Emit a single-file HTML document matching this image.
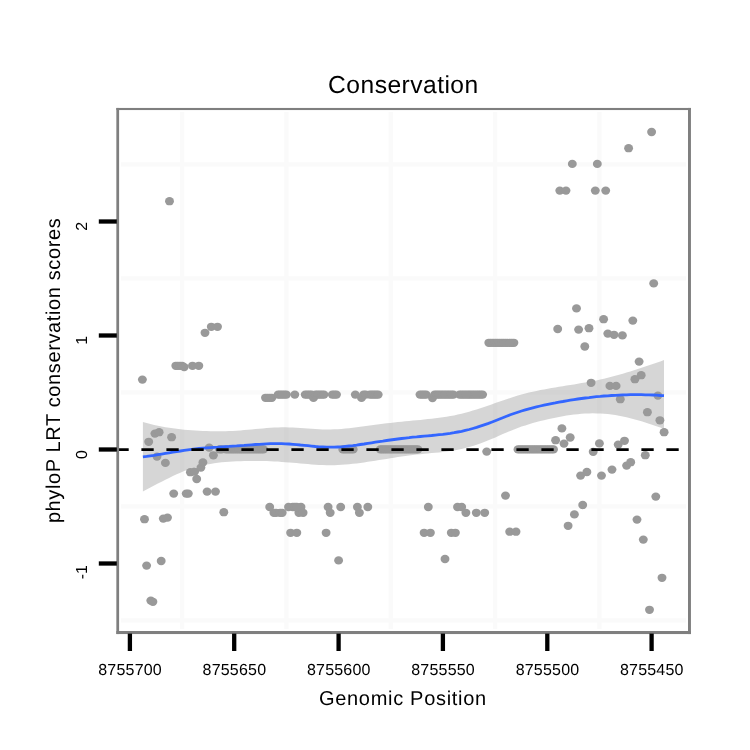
<!DOCTYPE html>
<html><head><meta charset="utf-8"><title>Conservation</title>
<style>html,body{margin:0;padding:0;background:#fff;}body{width:750px;height:750px;overflow:hidden;font-family:"Liberation Sans",sans-serif;}svg{display:block;will-change:transform;transform:translateZ(0);}text{-webkit-font-smoothing:antialiased;text-rendering:geometricPrecision;}</style></head>
<body>
<svg width="750" height="750" viewBox="0 0 750 750">
<rect x="0" y="0" width="750" height="750" fill="#ffffff"/>
<g stroke="#fafafa" stroke-width="4.3" fill="none">
<line x1="182.1" y1="112" x2="182.1" y2="629"/>
<line x1="286.4" y1="112" x2="286.4" y2="629"/>
<line x1="390.8" y1="112" x2="390.8" y2="629"/>
<line x1="495.1" y1="112" x2="495.1" y2="629"/>
<line x1="599.4" y1="112" x2="599.4" y2="629"/>
<line x1="121" y1="164.4" x2="686" y2="164.4"/>
<line x1="121" y1="278.4" x2="686" y2="278.4"/>
<line x1="121" y1="392.4" x2="686" y2="392.4"/>
<line x1="121" y1="506.4" x2="686" y2="506.4"/>
<line x1="121" y1="620.4" x2="686" y2="620.4"/>
</g>
<g fill="#999999">
<ellipse cx="142.4" cy="379.6" rx="4.45" ry="4.15"/>
<ellipse cx="144.5" cy="519.2" rx="4.45" ry="4.15"/>
<ellipse cx="146.6" cy="565.6" rx="4.45" ry="4.15"/>
<ellipse cx="148.7" cy="441.8" rx="4.45" ry="4.15"/>
<ellipse cx="150.8" cy="600.6" rx="4.45" ry="4.15"/>
<ellipse cx="152.9" cy="601.8" rx="4.45" ry="4.15"/>
<ellipse cx="154.9" cy="433.6" rx="4.45" ry="4.15"/>
<ellipse cx="157.0" cy="456.6" rx="4.45" ry="4.15"/>
<ellipse cx="159.1" cy="432.2" rx="4.45" ry="4.15"/>
<ellipse cx="161.2" cy="561.0" rx="4.45" ry="4.15"/>
<ellipse cx="163.3" cy="518.6" rx="4.45" ry="4.15"/>
<ellipse cx="165.4" cy="462.9" rx="4.45" ry="4.15"/>
<ellipse cx="167.5" cy="517.6" rx="4.45" ry="4.15"/>
<ellipse cx="169.5" cy="201.2" rx="4.45" ry="4.15"/>
<ellipse cx="171.6" cy="437.2" rx="4.45" ry="4.15"/>
<ellipse cx="173.7" cy="493.6" rx="4.45" ry="4.15"/>
<ellipse cx="175.8" cy="365.8" rx="4.45" ry="4.15"/>
<ellipse cx="177.9" cy="365.8" rx="4.45" ry="4.15"/>
<ellipse cx="180.0" cy="365.8" rx="4.45" ry="4.15"/>
<ellipse cx="182.1" cy="365.8" rx="4.45" ry="4.15"/>
<ellipse cx="184.2" cy="367.1" rx="4.45" ry="4.15"/>
<ellipse cx="186.2" cy="493.6" rx="4.45" ry="4.15"/>
<ellipse cx="188.3" cy="493.6" rx="4.45" ry="4.15"/>
<ellipse cx="190.4" cy="472.2" rx="4.45" ry="4.15"/>
<ellipse cx="192.5" cy="365.8" rx="4.45" ry="4.15"/>
<ellipse cx="194.6" cy="471.6" rx="4.45" ry="4.15"/>
<ellipse cx="196.7" cy="479.0" rx="4.45" ry="4.15"/>
<ellipse cx="198.8" cy="365.8" rx="4.45" ry="4.15"/>
<ellipse cx="200.9" cy="467.6" rx="4.45" ry="4.15"/>
<ellipse cx="202.9" cy="462.4" rx="4.45" ry="4.15"/>
<ellipse cx="205.0" cy="332.8" rx="4.45" ry="4.15"/>
<ellipse cx="207.1" cy="491.6" rx="4.45" ry="4.15"/>
<ellipse cx="209.2" cy="447.6" rx="4.45" ry="4.15"/>
<ellipse cx="211.3" cy="326.8" rx="4.45" ry="4.15"/>
<ellipse cx="213.4" cy="455.3" rx="4.45" ry="4.15"/>
<ellipse cx="215.5" cy="491.6" rx="4.45" ry="4.15"/>
<ellipse cx="217.5" cy="326.8" rx="4.45" ry="4.15"/>
<ellipse cx="219.6" cy="449.4" rx="4.45" ry="4.15"/>
<ellipse cx="221.7" cy="449.4" rx="4.45" ry="4.15"/>
<ellipse cx="223.8" cy="512.2" rx="4.45" ry="4.15"/>
<ellipse cx="225.9" cy="449.4" rx="4.45" ry="4.15"/>
<ellipse cx="228.0" cy="449.4" rx="4.45" ry="4.15"/>
<ellipse cx="230.1" cy="449.4" rx="4.45" ry="4.15"/>
<ellipse cx="232.2" cy="449.4" rx="4.45" ry="4.15"/>
<ellipse cx="234.2" cy="449.4" rx="4.45" ry="4.15"/>
<ellipse cx="236.3" cy="449.4" rx="4.45" ry="4.15"/>
<ellipse cx="238.4" cy="449.4" rx="4.45" ry="4.15"/>
<ellipse cx="240.5" cy="449.4" rx="4.45" ry="4.15"/>
<ellipse cx="242.6" cy="449.4" rx="4.45" ry="4.15"/>
<ellipse cx="244.7" cy="449.4" rx="4.45" ry="4.15"/>
<ellipse cx="246.8" cy="449.4" rx="4.45" ry="4.15"/>
<ellipse cx="248.8" cy="449.4" rx="4.45" ry="4.15"/>
<ellipse cx="250.9" cy="449.4" rx="4.45" ry="4.15"/>
<ellipse cx="253.0" cy="449.4" rx="4.45" ry="4.15"/>
<ellipse cx="255.1" cy="449.4" rx="4.45" ry="4.15"/>
<ellipse cx="257.2" cy="449.4" rx="4.45" ry="4.15"/>
<ellipse cx="259.3" cy="449.4" rx="4.45" ry="4.15"/>
<ellipse cx="261.4" cy="449.4" rx="4.45" ry="4.15"/>
<ellipse cx="263.5" cy="449.4" rx="4.45" ry="4.15"/>
<ellipse cx="265.5" cy="397.8" rx="4.45" ry="4.15"/>
<ellipse cx="267.6" cy="397.8" rx="4.45" ry="4.15"/>
<ellipse cx="269.7" cy="507.0" rx="4.45" ry="4.15"/>
<ellipse cx="271.8" cy="397.8" rx="4.45" ry="4.15"/>
<ellipse cx="273.9" cy="512.8" rx="4.45" ry="4.15"/>
<ellipse cx="276.0" cy="512.8" rx="4.45" ry="4.15"/>
<ellipse cx="278.1" cy="394.6" rx="4.45" ry="4.15"/>
<ellipse cx="280.1" cy="512.8" rx="4.45" ry="4.15"/>
<ellipse cx="282.2" cy="512.8" rx="4.45" ry="4.15"/>
<ellipse cx="284.3" cy="394.6" rx="4.45" ry="4.15"/>
<ellipse cx="286.4" cy="394.6" rx="4.45" ry="4.15"/>
<ellipse cx="288.5" cy="507.0" rx="4.45" ry="4.15"/>
<ellipse cx="290.6" cy="532.8" rx="4.45" ry="4.15"/>
<ellipse cx="292.7" cy="507.0" rx="4.45" ry="4.15"/>
<ellipse cx="294.8" cy="394.6" rx="4.45" ry="4.15"/>
<ellipse cx="296.8" cy="532.8" rx="4.45" ry="4.15"/>
<ellipse cx="298.9" cy="512.8" rx="4.45" ry="4.15"/>
<ellipse cx="301.0" cy="507.0" rx="4.45" ry="4.15"/>
<ellipse cx="303.1" cy="512.8" rx="4.45" ry="4.15"/>
<ellipse cx="305.2" cy="394.6" rx="4.45" ry="4.15"/>
<ellipse cx="307.3" cy="394.6" rx="4.45" ry="4.15"/>
<ellipse cx="309.4" cy="394.6" rx="4.45" ry="4.15"/>
<ellipse cx="311.5" cy="394.6" rx="4.45" ry="4.15"/>
<ellipse cx="313.5" cy="397.9" rx="4.45" ry="4.15"/>
<ellipse cx="315.6" cy="394.6" rx="4.45" ry="4.15"/>
<ellipse cx="317.7" cy="394.6" rx="4.45" ry="4.15"/>
<ellipse cx="319.8" cy="394.6" rx="4.45" ry="4.15"/>
<ellipse cx="321.9" cy="394.6" rx="4.45" ry="4.15"/>
<ellipse cx="324.0" cy="394.6" rx="4.45" ry="4.15"/>
<ellipse cx="326.1" cy="532.8" rx="4.45" ry="4.15"/>
<ellipse cx="328.1" cy="507.0" rx="4.45" ry="4.15"/>
<ellipse cx="330.2" cy="512.8" rx="4.45" ry="4.15"/>
<ellipse cx="332.3" cy="394.6" rx="4.45" ry="4.15"/>
<ellipse cx="334.4" cy="394.6" rx="4.45" ry="4.15"/>
<ellipse cx="336.5" cy="394.6" rx="4.45" ry="4.15"/>
<ellipse cx="338.6" cy="560.4" rx="4.45" ry="4.15"/>
<ellipse cx="340.7" cy="507.0" rx="4.45" ry="4.15"/>
<ellipse cx="342.8" cy="449.4" rx="4.45" ry="4.15"/>
<ellipse cx="344.8" cy="449.4" rx="4.45" ry="4.15"/>
<ellipse cx="346.9" cy="449.4" rx="4.45" ry="4.15"/>
<ellipse cx="349.0" cy="449.4" rx="4.45" ry="4.15"/>
<ellipse cx="351.1" cy="449.4" rx="4.45" ry="4.15"/>
<ellipse cx="353.2" cy="449.4" rx="4.45" ry="4.15"/>
<ellipse cx="355.3" cy="394.6" rx="4.45" ry="4.15"/>
<ellipse cx="357.4" cy="507.0" rx="4.45" ry="4.15"/>
<ellipse cx="359.4" cy="512.8" rx="4.45" ry="4.15"/>
<ellipse cx="361.5" cy="397.9" rx="4.45" ry="4.15"/>
<ellipse cx="363.6" cy="394.6" rx="4.45" ry="4.15"/>
<ellipse cx="365.7" cy="394.6" rx="4.45" ry="4.15"/>
<ellipse cx="367.8" cy="507.0" rx="4.45" ry="4.15"/>
<ellipse cx="369.9" cy="394.6" rx="4.45" ry="4.15"/>
<ellipse cx="372.0" cy="394.6" rx="4.45" ry="4.15"/>
<ellipse cx="374.1" cy="394.6" rx="4.45" ry="4.15"/>
<ellipse cx="376.1" cy="394.6" rx="4.45" ry="4.15"/>
<ellipse cx="378.2" cy="394.6" rx="4.45" ry="4.15"/>
<ellipse cx="380.3" cy="449.4" rx="4.45" ry="4.15"/>
<ellipse cx="382.4" cy="449.4" rx="4.45" ry="4.15"/>
<ellipse cx="384.5" cy="449.4" rx="4.45" ry="4.15"/>
<ellipse cx="386.6" cy="449.4" rx="4.45" ry="4.15"/>
<ellipse cx="388.7" cy="449.4" rx="4.45" ry="4.15"/>
<ellipse cx="390.8" cy="449.4" rx="4.45" ry="4.15"/>
<ellipse cx="392.8" cy="449.4" rx="4.45" ry="4.15"/>
<ellipse cx="394.9" cy="449.4" rx="4.45" ry="4.15"/>
<ellipse cx="397.0" cy="449.4" rx="4.45" ry="4.15"/>
<ellipse cx="399.1" cy="449.4" rx="4.45" ry="4.15"/>
<ellipse cx="401.2" cy="449.4" rx="4.45" ry="4.15"/>
<ellipse cx="403.3" cy="449.4" rx="4.45" ry="4.15"/>
<ellipse cx="405.4" cy="449.4" rx="4.45" ry="4.15"/>
<ellipse cx="407.4" cy="449.4" rx="4.45" ry="4.15"/>
<ellipse cx="409.5" cy="449.4" rx="4.45" ry="4.15"/>
<ellipse cx="411.6" cy="449.4" rx="4.45" ry="4.15"/>
<ellipse cx="413.7" cy="449.4" rx="4.45" ry="4.15"/>
<ellipse cx="415.8" cy="449.4" rx="4.45" ry="4.15"/>
<ellipse cx="417.9" cy="449.4" rx="4.45" ry="4.15"/>
<ellipse cx="420.0" cy="394.6" rx="4.45" ry="4.15"/>
<ellipse cx="422.1" cy="394.6" rx="4.45" ry="4.15"/>
<ellipse cx="424.1" cy="532.8" rx="4.45" ry="4.15"/>
<ellipse cx="426.2" cy="394.6" rx="4.45" ry="4.15"/>
<ellipse cx="428.3" cy="507.0" rx="4.45" ry="4.15"/>
<ellipse cx="430.4" cy="532.8" rx="4.45" ry="4.15"/>
<ellipse cx="432.5" cy="398.1" rx="4.45" ry="4.15"/>
<ellipse cx="434.6" cy="394.6" rx="4.45" ry="4.15"/>
<ellipse cx="436.7" cy="394.6" rx="4.45" ry="4.15"/>
<ellipse cx="438.7" cy="394.6" rx="4.45" ry="4.15"/>
<ellipse cx="440.8" cy="394.6" rx="4.45" ry="4.15"/>
<ellipse cx="442.9" cy="394.6" rx="4.45" ry="4.15"/>
<ellipse cx="445.0" cy="559.0" rx="4.45" ry="4.15"/>
<ellipse cx="447.1" cy="394.6" rx="4.45" ry="4.15"/>
<ellipse cx="449.2" cy="394.6" rx="4.45" ry="4.15"/>
<ellipse cx="451.3" cy="532.8" rx="4.45" ry="4.15"/>
<ellipse cx="453.4" cy="394.6" rx="4.45" ry="4.15"/>
<ellipse cx="455.4" cy="532.8" rx="4.45" ry="4.15"/>
<ellipse cx="457.5" cy="507.0" rx="4.45" ry="4.15"/>
<ellipse cx="459.6" cy="394.6" rx="4.45" ry="4.15"/>
<ellipse cx="461.7" cy="507.0" rx="4.45" ry="4.15"/>
<ellipse cx="463.8" cy="394.6" rx="4.45" ry="4.15"/>
<ellipse cx="465.9" cy="512.8" rx="4.45" ry="4.15"/>
<ellipse cx="468.0" cy="394.6" rx="4.45" ry="4.15"/>
<ellipse cx="470.0" cy="394.6" rx="4.45" ry="4.15"/>
<ellipse cx="472.1" cy="394.6" rx="4.45" ry="4.15"/>
<ellipse cx="474.2" cy="394.6" rx="4.45" ry="4.15"/>
<ellipse cx="476.3" cy="512.8" rx="4.45" ry="4.15"/>
<ellipse cx="478.4" cy="394.6" rx="4.45" ry="4.15"/>
<ellipse cx="480.5" cy="394.6" rx="4.45" ry="4.15"/>
<ellipse cx="482.6" cy="394.6" rx="4.45" ry="4.15"/>
<ellipse cx="484.7" cy="512.8" rx="4.45" ry="4.15"/>
<ellipse cx="486.7" cy="451.6" rx="4.45" ry="4.15"/>
<ellipse cx="488.8" cy="342.8" rx="4.45" ry="4.15"/>
<ellipse cx="490.9" cy="342.8" rx="4.45" ry="4.15"/>
<ellipse cx="493.0" cy="342.8" rx="4.45" ry="4.15"/>
<ellipse cx="495.1" cy="342.8" rx="4.45" ry="4.15"/>
<ellipse cx="497.2" cy="342.8" rx="4.45" ry="4.15"/>
<ellipse cx="499.3" cy="342.8" rx="4.45" ry="4.15"/>
<ellipse cx="501.4" cy="342.8" rx="4.45" ry="4.15"/>
<ellipse cx="503.4" cy="342.8" rx="4.45" ry="4.15"/>
<ellipse cx="505.5" cy="495.6" rx="4.45" ry="4.15"/>
<ellipse cx="507.6" cy="342.8" rx="4.45" ry="4.15"/>
<ellipse cx="509.7" cy="531.7" rx="4.45" ry="4.15"/>
<ellipse cx="511.8" cy="342.8" rx="4.45" ry="4.15"/>
<ellipse cx="513.9" cy="342.8" rx="4.45" ry="4.15"/>
<ellipse cx="516.0" cy="531.7" rx="4.45" ry="4.15"/>
<ellipse cx="518.0" cy="449.4" rx="4.45" ry="4.15"/>
<ellipse cx="520.1" cy="449.4" rx="4.45" ry="4.15"/>
<ellipse cx="522.2" cy="449.4" rx="4.45" ry="4.15"/>
<ellipse cx="524.3" cy="449.4" rx="4.45" ry="4.15"/>
<ellipse cx="526.4" cy="449.4" rx="4.45" ry="4.15"/>
<ellipse cx="528.5" cy="449.4" rx="4.45" ry="4.15"/>
<ellipse cx="530.6" cy="449.4" rx="4.45" ry="4.15"/>
<ellipse cx="532.7" cy="449.4" rx="4.45" ry="4.15"/>
<ellipse cx="534.7" cy="449.4" rx="4.45" ry="4.15"/>
<ellipse cx="536.8" cy="449.4" rx="4.45" ry="4.15"/>
<ellipse cx="538.9" cy="449.4" rx="4.45" ry="4.15"/>
<ellipse cx="541.0" cy="449.4" rx="4.45" ry="4.15"/>
<ellipse cx="543.1" cy="449.4" rx="4.45" ry="4.15"/>
<ellipse cx="545.2" cy="449.4" rx="4.45" ry="4.15"/>
<ellipse cx="547.3" cy="449.4" rx="4.45" ry="4.15"/>
<ellipse cx="549.3" cy="449.4" rx="4.45" ry="4.15"/>
<ellipse cx="551.4" cy="449.4" rx="4.45" ry="4.15"/>
<ellipse cx="553.5" cy="449.4" rx="4.45" ry="4.15"/>
<ellipse cx="555.6" cy="440.2" rx="4.45" ry="4.15"/>
<ellipse cx="557.7" cy="329.0" rx="4.45" ry="4.15"/>
<ellipse cx="559.8" cy="190.6" rx="4.45" ry="4.15"/>
<ellipse cx="561.9" cy="428.4" rx="4.45" ry="4.15"/>
<ellipse cx="564.0" cy="443.6" rx="4.45" ry="4.15"/>
<ellipse cx="566.0" cy="190.6" rx="4.45" ry="4.15"/>
<ellipse cx="568.1" cy="525.8" rx="4.45" ry="4.15"/>
<ellipse cx="570.2" cy="437.5" rx="4.45" ry="4.15"/>
<ellipse cx="572.3" cy="163.9" rx="4.45" ry="4.15"/>
<ellipse cx="574.4" cy="514.4" rx="4.45" ry="4.15"/>
<ellipse cx="576.5" cy="308.4" rx="4.45" ry="4.15"/>
<ellipse cx="578.6" cy="329.6" rx="4.45" ry="4.15"/>
<ellipse cx="580.6" cy="475.6" rx="4.45" ry="4.15"/>
<ellipse cx="582.7" cy="505.0" rx="4.45" ry="4.15"/>
<ellipse cx="584.8" cy="346.5" rx="4.45" ry="4.15"/>
<ellipse cx="586.9" cy="472.0" rx="4.45" ry="4.15"/>
<ellipse cx="589.0" cy="328.2" rx="4.45" ry="4.15"/>
<ellipse cx="591.1" cy="382.8" rx="4.45" ry="4.15"/>
<ellipse cx="593.2" cy="451.8" rx="4.45" ry="4.15"/>
<ellipse cx="595.3" cy="190.6" rx="4.45" ry="4.15"/>
<ellipse cx="597.3" cy="163.9" rx="4.45" ry="4.15"/>
<ellipse cx="599.4" cy="443.4" rx="4.45" ry="4.15"/>
<ellipse cx="601.5" cy="475.6" rx="4.45" ry="4.15"/>
<ellipse cx="603.6" cy="319.2" rx="4.45" ry="4.15"/>
<ellipse cx="605.7" cy="190.6" rx="4.45" ry="4.15"/>
<ellipse cx="607.8" cy="333.6" rx="4.45" ry="4.15"/>
<ellipse cx="609.9" cy="385.9" rx="4.45" ry="4.15"/>
<ellipse cx="612.0" cy="469.6" rx="4.45" ry="4.15"/>
<ellipse cx="614.0" cy="334.8" rx="4.45" ry="4.15"/>
<ellipse cx="616.1" cy="385.9" rx="4.45" ry="4.15"/>
<ellipse cx="618.2" cy="444.6" rx="4.45" ry="4.15"/>
<ellipse cx="620.3" cy="399.2" rx="4.45" ry="4.15"/>
<ellipse cx="622.4" cy="335.4" rx="4.45" ry="4.15"/>
<ellipse cx="624.5" cy="440.8" rx="4.45" ry="4.15"/>
<ellipse cx="626.6" cy="465.6" rx="4.45" ry="4.15"/>
<ellipse cx="628.6" cy="148.2" rx="4.45" ry="4.15"/>
<ellipse cx="630.7" cy="462.2" rx="4.45" ry="4.15"/>
<ellipse cx="632.8" cy="320.6" rx="4.45" ry="4.15"/>
<ellipse cx="634.9" cy="379.2" rx="4.45" ry="4.15"/>
<ellipse cx="637.0" cy="519.6" rx="4.45" ry="4.15"/>
<ellipse cx="639.1" cy="361.6" rx="4.45" ry="4.15"/>
<ellipse cx="641.2" cy="375.2" rx="4.45" ry="4.15"/>
<ellipse cx="643.3" cy="539.6" rx="4.45" ry="4.15"/>
<ellipse cx="645.3" cy="455.2" rx="4.45" ry="4.15"/>
<ellipse cx="647.4" cy="412.2" rx="4.45" ry="4.15"/>
<ellipse cx="649.5" cy="609.8" rx="4.45" ry="4.15"/>
<ellipse cx="651.6" cy="132.0" rx="4.45" ry="4.15"/>
<ellipse cx="653.7" cy="283.4" rx="4.45" ry="4.15"/>
<ellipse cx="655.8" cy="496.6" rx="4.45" ry="4.15"/>
<ellipse cx="657.9" cy="395.6" rx="4.45" ry="4.15"/>
<ellipse cx="659.9" cy="420.3" rx="4.45" ry="4.15"/>
<ellipse cx="662.0" cy="577.8" rx="4.45" ry="4.15"/>
<ellipse cx="664.1" cy="432.2" rx="4.45" ry="4.15"/>
<ellipse cx="505.5" cy="342.8" rx="4.45" ry="4.15"/>
<ellipse cx="509.7" cy="342.8" rx="4.45" ry="4.15"/>
<ellipse cx="269.7" cy="397.8" rx="4.45" ry="4.15"/>
<ellipse cx="280.1" cy="394.6" rx="4.45" ry="4.15"/>
<ellipse cx="282.2" cy="394.6" rx="4.45" ry="4.15"/>
<ellipse cx="294.8" cy="507.0" rx="4.45" ry="4.15"/>
<ellipse cx="296.8" cy="507.0" rx="4.45" ry="4.15"/>
<ellipse cx="424.1" cy="394.6" rx="4.45" ry="4.15"/>
<ellipse cx="445.0" cy="394.6" rx="4.45" ry="4.15"/>
<ellipse cx="451.3" cy="394.6" rx="4.45" ry="4.15"/>
<ellipse cx="461.7" cy="394.6" rx="4.45" ry="4.15"/>
<ellipse cx="465.9" cy="394.6" rx="4.45" ry="4.15"/>
<ellipse cx="476.3" cy="394.6" rx="4.45" ry="4.15"/>
</g>
<path d="M142.9 422.0L146.6 423.0L150.4 424.0L154.1 424.9L157.9 425.7L161.6 426.5L165.4 427.2L169.1 427.8L172.9 428.3L176.6 428.8L180.4 429.3L184.1 429.7L187.9 430.0L191.6 430.3L195.4 430.6L199.1 430.8L202.9 431.0L206.6 431.1L210.4 431.2L214.1 431.3L217.9 431.3L221.6 431.3L225.4 431.2L229.1 431.0L232.9 430.9L236.6 430.7L240.4 430.4L244.1 430.1L247.9 429.8L251.6 429.5L255.4 429.1L259.1 428.7L262.9 428.4L266.6 428.1L270.4 427.8L274.1 427.6L277.9 427.4L281.6 427.3L285.4 427.3L289.1 427.4L292.9 427.5L296.6 427.7L300.4 427.9L304.1 428.2L307.9 428.5L311.6 428.7L315.4 429.0L319.1 429.2L322.8 429.4L326.6 429.4L330.3 429.4L334.1 429.3L337.8 429.2L341.6 428.9L345.3 428.6L349.1 428.2L352.8 427.7L356.6 427.3L360.3 426.8L364.1 426.3L367.8 425.7L371.6 425.2L375.3 424.7L379.1 424.2L382.8 423.8L386.6 423.3L390.3 422.9L394.1 422.5L397.8 422.1L401.6 421.7L405.3 421.3L409.1 421.0L412.8 420.6L416.6 420.2L420.3 419.9L424.1 419.5L427.8 419.1L431.6 418.7L435.3 418.3L439.1 417.8L442.8 417.3L446.6 416.7L450.3 416.1L454.1 415.4L457.8 414.6L461.6 413.7L465.3 412.7L469.1 411.7L472.8 410.6L476.6 409.4L480.3 408.2L484.1 407.0L487.8 405.7L491.5 404.4L495.3 403.1L499.0 401.8L502.8 400.4L506.5 399.2L510.3 397.9L514.0 396.7L517.8 395.6L521.5 394.6L525.3 393.6L529.0 392.6L532.8 391.8L536.5 390.9L540.3 390.1L544.0 389.4L547.8 388.7L551.5 388.0L555.3 387.4L559.0 386.8L562.8 386.2L566.5 385.6L570.3 385.0L574.0 384.4L577.8 383.8L581.5 383.1L585.3 382.5L589.0 381.8L592.8 381.1L596.5 380.4L600.3 379.5L604.0 378.7L607.8 377.8L611.5 376.8L615.3 375.8L619.0 374.8L622.8 373.7L626.5 372.5L630.3 371.4L634.0 370.2L637.8 369.0L641.5 367.8L645.3 366.5L649.0 365.2L652.8 363.9L656.5 362.7L660.3 361.4L664.0 360.0L664.0 428.9L660.3 427.6L656.5 426.2L652.8 424.9L649.0 423.7L645.3 422.4L641.5 421.3L637.8 420.2L634.0 419.2L630.3 418.2L626.5 417.3L622.8 416.5L619.0 415.8L615.3 415.1L611.5 414.6L607.8 414.1L604.0 413.8L600.3 413.5L596.5 413.4L592.8 413.3L589.0 413.4L585.3 413.6L581.5 413.8L577.8 414.2L574.0 414.6L570.3 415.1L566.5 415.6L562.8 416.3L559.0 417.0L555.3 417.7L551.5 418.5L547.8 419.3L544.0 420.2L540.3 421.1L536.5 422.1L532.8 423.1L529.0 424.2L525.3 425.4L521.5 426.6L517.8 428.0L514.0 429.4L510.3 430.9L506.5 432.5L502.8 434.1L499.0 435.7L495.3 437.4L491.5 439.0L487.8 440.5L484.1 442.0L480.3 443.4L476.6 444.7L472.8 445.9L469.1 447.0L465.3 448.0L461.6 448.9L457.8 449.7L454.1 450.5L450.3 451.1L446.6 451.6L442.8 452.0L439.1 452.4L435.3 452.8L431.6 453.1L427.8 453.4L424.1 453.8L420.3 454.2L416.6 454.6L412.8 455.0L409.1 455.5L405.3 456.0L401.6 456.6L397.8 457.1L394.1 457.7L390.3 458.3L386.6 458.9L382.8 459.5L379.1 460.1L375.3 460.7L371.6 461.3L367.8 461.8L364.1 462.4L360.3 462.9L356.6 463.4L352.8 463.8L349.1 464.2L345.3 464.5L341.6 464.8L337.8 465.0L334.1 465.2L330.3 465.2L326.6 465.2L322.8 465.1L319.1 464.9L315.4 464.7L311.6 464.4L307.9 464.1L304.1 463.8L300.4 463.5L296.6 463.1L292.9 462.8L289.1 462.5L285.4 462.2L281.6 461.9L277.9 461.6L274.1 461.4L270.4 461.3L266.6 461.1L262.9 461.0L259.1 461.0L255.4 460.9L251.6 460.9L247.9 461.0L244.1 461.1L240.4 461.2L236.6 461.3L232.9 461.5L229.1 461.7L225.4 462.0L221.6 462.3L217.9 462.8L214.1 463.3L210.4 463.9L206.6 464.6L202.9 465.4L199.1 466.3L195.4 467.3L191.6 468.4L187.9 469.7L184.1 471.1L180.4 472.7L176.6 474.3L172.9 476.0L169.1 477.9L165.4 479.7L161.6 481.7L157.9 483.6L154.1 485.6L150.4 487.6L146.6 489.6L142.9 491.6Z" fill="#999999" fill-opacity="0.4"/>
<path d="M142.9 456.8L146.6 456.4L150.4 455.8L154.1 455.3L157.9 454.7L161.6 454.1L165.4 453.4L169.1 452.8L172.9 452.2L176.6 451.6L180.4 451.0L184.1 450.4L187.9 449.9L191.6 449.4L195.4 448.9L199.1 448.5L202.9 448.2L206.6 447.9L210.4 447.6L214.1 447.3L217.9 447.1L221.6 446.8L225.4 446.6L229.1 446.4L232.9 446.1L236.6 445.9L240.4 445.6L244.1 445.4L247.9 445.1L251.6 444.8L255.4 444.5L259.1 444.3L262.9 444.1L266.6 443.9L270.4 443.7L274.1 443.6L277.9 443.6L281.6 443.6L285.4 443.8L289.1 444.0L292.9 444.3L296.6 444.6L300.4 445.0L304.1 445.3L307.9 445.7L311.6 446.1L315.4 446.5L319.1 446.8L322.8 447.0L326.6 447.2L330.3 447.2L334.1 447.2L337.8 447.0L341.6 446.8L345.3 446.4L349.1 446.0L352.8 445.6L356.6 445.1L360.3 444.5L364.1 444.0L367.8 443.4L371.6 442.8L375.3 442.2L379.1 441.6L382.8 441.1L386.6 440.5L390.3 440.0L394.1 439.5L397.8 439.0L401.6 438.5L405.3 438.1L409.1 437.7L412.8 437.2L416.6 436.9L420.3 436.5L424.1 436.1L427.8 435.8L431.6 435.5L435.3 435.1L439.1 434.7L442.8 434.3L446.6 433.8L450.3 433.3L454.1 432.7L457.8 432.0L461.6 431.3L465.3 430.4L469.1 429.5L472.8 428.5L476.6 427.4L480.3 426.2L484.1 424.9L487.8 423.6L491.5 422.2L495.3 420.7L499.0 419.2L502.8 417.7L506.5 416.3L510.3 414.8L514.0 413.5L517.8 412.2L521.5 411.0L525.3 409.9L529.0 408.8L532.8 407.8L536.5 406.9L540.3 406.0L544.0 405.2L547.8 404.4L551.5 403.6L555.3 402.9L559.0 402.1L562.8 401.5L566.5 400.8L570.3 400.2L574.0 399.6L577.8 399.0L581.5 398.5L585.3 398.0L589.0 397.6L592.8 397.1L596.5 396.7L600.3 396.4L604.0 396.0L607.8 395.8L611.5 395.5L615.3 395.3L619.0 395.1L622.8 394.9L626.5 394.8L630.3 394.7L634.0 394.7L637.8 394.7L641.5 394.7L645.3 394.8L649.0 394.9L652.8 395.0L656.5 395.2L660.3 395.5L664.0 395.7" fill="none" stroke="#3366ff" stroke-width="2.8" stroke-linejoin="round"/>
<line x1="116.4" y1="449.5" x2="689.2" y2="449.5" stroke="#000" stroke-width="2.75" stroke-dasharray="12.3 12.7"/>
<g fill="#7f7f7f"><rect x="116.35" y="107.95" width="574.6" height="2.1"/><rect x="116.35" y="631.0" width="574.6" height="3.05"/><rect x="116.35" y="107.95" width="2.75" height="526.1"/><rect x="688.0" y="107.95" width="2.95" height="526.1"/></g>
<g stroke="#000" stroke-width="4.3">
<line x1="129.9" y1="633.6" x2="129.9" y2="651.0"/>
<line x1="234.2" y1="633.6" x2="234.2" y2="651.0"/>
<line x1="338.6" y1="633.6" x2="338.6" y2="651.0"/>
<line x1="442.9" y1="633.6" x2="442.9" y2="651.0"/>
<line x1="547.3" y1="633.6" x2="547.3" y2="651.0"/>
<line x1="651.6" y1="633.6" x2="651.6" y2="651.0"/>
<line x1="98.8" y1="221.5" x2="116.8" y2="221.5"/>
<line x1="98.8" y1="335.5" x2="116.8" y2="335.5"/>
<line x1="98.8" y1="449.5" x2="116.8" y2="449.5"/>
<line x1="98.8" y1="563.5" x2="116.8" y2="563.5"/>
</g>
<g font-family="'Liberation Sans', sans-serif" fill="#000">
<text x="130.1" y="675.3" font-size="16" letter-spacing="0.2" text-anchor="middle">8755700</text>
<text x="234.4" y="675.3" font-size="16" letter-spacing="0.2" text-anchor="middle">8755650</text>
<text x="338.8" y="675.3" font-size="16" letter-spacing="0.2" text-anchor="middle">8755600</text>
<text x="443.1" y="675.3" font-size="16" letter-spacing="0.2" text-anchor="middle">8755550</text>
<text x="547.5" y="675.3" font-size="16" letter-spacing="0.2" text-anchor="middle">8755500</text>
<text x="651.8" y="675.3" font-size="16" letter-spacing="0.2" text-anchor="middle">8755450</text>
<text transform="translate(87.3 221.8) rotate(-90)" font-size="16" text-anchor="end">2</text>
<text transform="translate(87.3 335.8) rotate(-90)" font-size="16" text-anchor="end">1</text>
<text transform="translate(87.3 450.0) rotate(-90)" font-size="16" text-anchor="end">0</text>
<text transform="translate(87.3 565.0) rotate(-90)" font-size="16" text-anchor="end">-1</text>
<text x="403.4" y="93.0" font-size="24.6" letter-spacing="0.47" text-anchor="middle">Conservation</text>
<text x="402.9" y="705.0" font-size="20" letter-spacing="0.7" text-anchor="middle">Genomic Position</text>
<text transform="translate(60.3 370.4) rotate(-90)" font-size="20" letter-spacing="0.62" text-anchor="middle">phyloP LRT conservation scores</text>
</g>
</svg>
</body></html>
